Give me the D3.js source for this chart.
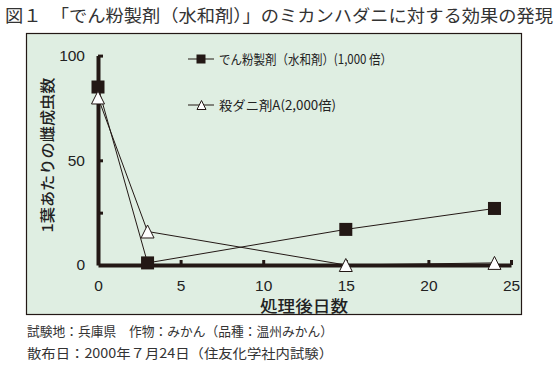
<!DOCTYPE html>
<html><head><meta charset="utf-8">
<script src="https://cdn.jsdelivr.net/npm/d3@7"></script>
<style>
body{margin:0;background:#fff;}
svg text{font-family:"Noto Sans CJK JP","Noto Sans",sans-serif;}
.num{font-family:"Liberation Sans",Arial,sans-serif;}
</style></head>
<body>
<svg id="c" width="558" height="367"></svg>
<script>
const days = [0, 3, 15, 24];
const starchValues = [85, 1, 17, 27];
const acaricideValues = [80, 16, 0, 1];
const seriesNames = ["でん粉製剤（水和剤）(1,000 倍）", "殺ダニ剤A(2,000倍)"];
const xTicks = [0, 5, 10, 15, 20, 25];
const yTicks = [0, 25, 50, 100];
const yLabeled = [0, 50, 100];
const title = "図１　「でん粉製剤（水和剤）」のミカンハダニに対する効果の発現";
const xTitle = "処理後日数";
const yTitle = "1葉あたりの雌成虫数";
const notes = ["試験地：兵庫県　作物：みかん（品種：温州みかん）", "散布日：2000年７月24日（住友化学社内試験）"];

const ink = "#231815";
const svg = d3.select("#c");

svg.append("text").attr("x", 5).attr("y", 22).attr("font-size", 17)
  .attr("fill", "#333").attr("textLength", 548).attr("lengthAdjust", "spacingAndGlyphs").text(title);

svg.append("rect").attr("x", 26.5).attr("y", 33.5).attr("width", 495).attr("height", 281)
  .attr("fill", "#dfeee2").attr("stroke", ink).attr("stroke-width", 1.2);

const x = d3.scaleLinear().domain([0, 25]).range([98, 511]);
const y = d3.scaleLinear().domain([0, 100]).range([265, 55.6]);

// x axis
const gx = svg.append("g").attr("transform", `translate(0,${y(0)})`)
  .call(d3.axisBottom(x).tickValues(xTicks).tickSize(-5).tickSizeOuter(0).tickPadding(15));
gx.select(".domain").attr("stroke", ink).attr("stroke-width", 4);
gx.selectAll(".tick line").attr("stroke", ink).attr("stroke-width", 3);
gx.selectAll(".tick").filter(d => d === 0).select("line").remove();
gx.selectAll(".tick text").attr("class", "num").attr("font-size", 15.5).attr("fill", "#222");

// y axis
const gy = svg.append("g").attr("transform", `translate(${x(0)},0)`)
  .call(d3.axisLeft(y).tickValues(yTicks).tickSize(-5).tickSizeOuter(0).tickPadding(13)
    .tickFormat(d => yLabeled.includes(d) ? d : ""));
gy.select(".domain").attr("stroke", ink).attr("stroke-width", 4);
gy.selectAll(".tick line").attr("stroke", ink).attr("stroke-width", 3);
gy.selectAll(".tick").filter(d => d === 0).select("line").remove();
gy.selectAll(".tick text").attr("class", "num").attr("font-size", 15.5).attr("fill", "#222");

// lines
const line = d3.line().x(d => x(d[0])).y(d => y(d[1]));
const s1 = days.map((d, i) => [d, starchValues[i]]);
const s2 = days.map((d, i) => [d, acaricideValues[i]]);
svg.append("path").attr("d", line(s1)).attr("fill", "none").attr("stroke", ink).attr("stroke-width", 1);
svg.append("path").attr("d", line(s2)).attr("fill", "none").attr("stroke", ink).attr("stroke-width", 1);

const sq = 13;
svg.selectAll(".sq").data(s1).enter().append("rect")
  .attr("x", d => x(d[0]) - sq / 2).attr("y", d => y(d[1]) - sq / 2)
  .attr("width", sq).attr("height", sq).attr("fill", ink);
const tri = (cx, cy, w) => `M${cx},${cy - w / 2}L${cx + w / 2},${cy + w / 2}L${cx - w / 2},${cy + w / 2}Z`;
svg.selectAll(".tri").data(s2).enter().append("path")
  .attr("d", d => tri(x(d[0]), y(d[1]), 13)).attr("fill", "#fff").attr("stroke", ink).attr("stroke-width", 1);

// legend
const lg = [{y: 59, t: "sq"}, {y: 105, t: "tri"}];
lg.forEach((l, i) => {
  svg.append("line").attr("x1", 188).attr("x2", 214).attr("y1", l.y).attr("y2", l.y)
    .attr("stroke", ink).attr("stroke-width", 1);
  if (l.t === "sq") svg.append("rect").attr("x", 196.5).attr("y", l.y - 4.5).attr("width", 9).attr("height", 9).attr("fill", ink);
  else svg.append("path").attr("d", tri(201.5, l.y, 9)).attr("fill", "#fff").attr("stroke", ink).attr("stroke-width", 1);
  svg.append("text").attr("x", 219).attr("y", l.y + 5).attr("font-size", 13).attr("fill", "#222")
    .attr("textLength", i === 0 ? 173 : 117).attr("lengthAdjust", "spacingAndGlyphs").text(seriesNames[i]);
});

// axis titles
svg.append("text").attr("x", 304).attr("y", 312).attr("text-anchor", "middle").attr("font-size", 16)
  .attr("font-weight", 500).attr("fill", "#222").attr("textLength", 88).attr("lengthAdjust", "spacingAndGlyphs").text(xTitle);
svg.append("text").attr("transform", "translate(53,155) rotate(-90)").attr("text-anchor", "middle")
  .attr("font-size", 15).attr("font-weight", 500).attr("fill", "#222")
  .attr("textLength", 155).attr("lengthAdjust", "spacingAndGlyphs").text(yTitle);

// notes
notes.forEach((n, i) => {
  svg.append("text").attr("x", 27).attr("y", 336 + i * 22).attr("font-size", 13).attr("fill", "#333")
    .attr("textLength", 306).attr("lengthAdjust", "spacingAndGlyphs").text(n);
});
</script>
</body></html>
